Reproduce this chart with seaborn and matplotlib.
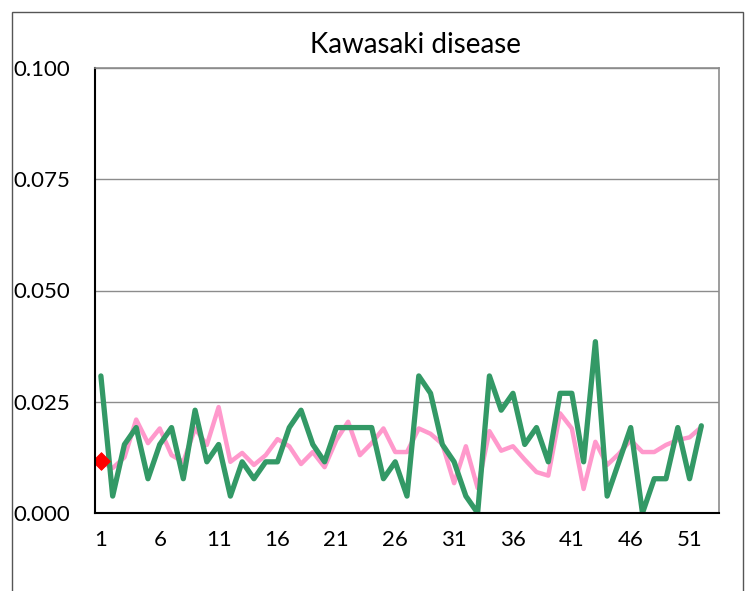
import numpy as np
import pandas as pd
import seaborn as sns
import matplotlib
matplotlib.use("Agg")
import matplotlib.pyplot as plt
from matplotlib.patches import Rectangle
from matplotlib.ticker import FixedLocator

# data (per-week rates)
weeks = list(range(1, 53))
green_vals = [0.0308, 0.0038, 0.0154, 0.0192, 0.0077, 0.0154, 0.0192, 0.0077, 0.0231, 0.0115,
              0.0154, 0.0038, 0.0115, 0.0077, 0.0115, 0.0115, 0.0192, 0.0231, 0.0154, 0.0115,
              0.0192, 0.0192, 0.0192, 0.0192, 0.0077, 0.0115, 0.0038, 0.0308, 0.0269, 0.0154,
              0.0115, 0.0038, 0.0000, 0.0308, 0.0231, 0.0269, 0.0154, 0.0192, 0.0115, 0.0269,
              0.0269, 0.0115, 0.0385, 0.0038, 0.0115, 0.0192, 0.0000, 0.0077, 0.0077, 0.0192,
              0.0077, 0.0196]
pink_vals = [0.0115, 0.0101, 0.0125, 0.0210, 0.0157, 0.0190, 0.0130, 0.0115, 0.0190, 0.0153,
             0.0238, 0.0115, 0.0135, 0.0108, 0.0130, 0.0166, 0.0150, 0.0110, 0.0137, 0.0103,
             0.0164, 0.0205, 0.0130, 0.0157, 0.0190, 0.0137, 0.0137, 0.0190, 0.0178, 0.0155,
             0.0067, 0.0150, 0.0056, 0.0184, 0.0140, 0.0150, 0.0120, 0.0092, 0.0084, 0.0224,
             0.0190, 0.0054, 0.0160, 0.0108, 0.0133, 0.0164, 0.0137, 0.0137, 0.0153, 0.0164,
             0.0170, 0.0193]
current_weeks = [1]
current_vals = [0.0117]

x_labels = [1, 6, 11, 16, 21, 26, 31, 36, 41, 46, 51]
y_ticks = [0.000, 0.025, 0.050, 0.075, 0.100]

sns.set_style("white")
plt.rcParams['font.family'] = ['Lato', 'DejaVu Sans']
plt.rcParams['text.color'] = 'black'
plt.rcParams['xtick.color'] = 'black'
plt.rcParams['ytick.color'] = 'black'

df_green = pd.DataFrame({'week': weeks, 'rate': green_vals})
df_pink = pd.DataFrame({'week': weeks, 'rate': pink_vals})
df_now = pd.DataFrame({'week': current_weeks, 'rate': current_vals})

fig = plt.figure(figsize=(7.51, 5.91), dpi=100)
ax = fig.add_axes([95 / 751, 1 - 513 / 591, (719 - 95) / 751, (513 - 68) / 591])

# horizontal grid
for yv in y_ticks[1:]:
    ax.axhline(yv, color='#8c8c8c', lw=1.0, zorder=1)

sns.lineplot(data=df_pink, x='week', y='rate', ax=ax, color='#ff99cc', lw=3.2, zorder=3)
sns.lineplot(data=df_green, x='week', y='rate', ax=ax, color='#339966', lw=3.8, zorder=4)
sns.scatterplot(data=df_now, x='week', y='rate', ax=ax, color='#ff0000', marker='D',
                s=80, edgecolor='#ff0000', zorder=5)

ax.set_xlim(0.5, 53.5)
ax.set_ylim(0, 0.1)
ax.set_xlabel('')
ax.set_ylabel('')

ax.set_xticks(x_labels)
ax.set_xticklabels([str(v) for v in x_labels], fontsize=16)
ax.xaxis.set_minor_locator(FixedLocator([v + 4.5 for v in x_labels[:-1]]))
ax.tick_params(axis='x', which='major', length=0, pad=12)
ax.tick_params(axis='x', which='minor', length=6, direction='in', color='#8c8c8c', width=1)

ax.set_yticks(y_ticks)
ax.set_yticklabels(['%.3f' % v for v in y_ticks], fontsize=16)
ax.tick_params(axis='y', length=0, pad=18)

ax.spines['left'].set_color('black')
ax.spines['bottom'].set_color('black')
ax.spines['left'].set_linewidth(1.5)
ax.spines['bottom'].set_linewidth(1.5)
ax.spines['top'].set_color('#8c8c8c')
ax.spines['right'].set_color('#8c8c8c')
ax.spines['top'].set_linewidth(1.2)
ax.spines['right'].set_linewidth(1.2)
for s in ax.spines.values():
    s.set_zorder(6)

fig.text(415 / 751, 1 - 45 / 591, 'Kawasaki disease', ha='center', va='center', fontsize=20)

# outer frame
fig.patches.append(Rectangle((12 / 751, -0.1), (743 - 12) / 751, (591 - 12) / 591 + 0.1,
                             transform=fig.transFigure, fill=False, edgecolor='#555555', lw=1.0))

fig.savefig('out.png', dpi=100)
